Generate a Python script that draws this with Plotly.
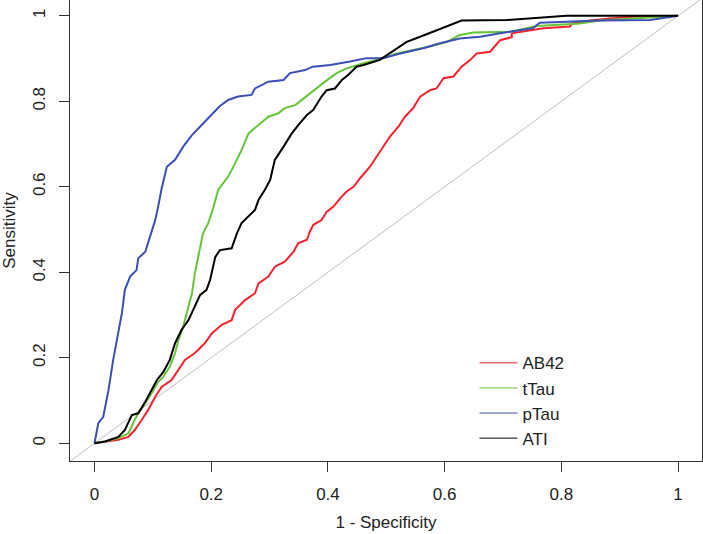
import plotly.graph_objects as go

# ROC curves (1 - specificity, sensitivity)
ab42_fpr = [0, 0.018, 0.041, 0.058, 0.069, 0.081, 0.092, 0.104, 0.115, 0.132, 0.144, 0.155, 0.172, 0.189, 0.201, 0.218, 0.235, 0.241, 0.258, 0.275, 0.281, 0.298, 0.309, 0.326, 0.341, 0.349, 0.364, 0.369, 0.375, 0.389, 0.398, 0.409, 0.421, 0.432, 0.444, 0.455, 0.472, 0.489, 0.506, 0.521, 0.532, 0.546, 0.558, 0.575, 0.586, 0.598, 0.615, 0.629, 0.644, 0.655, 0.678, 0.695, 0.715, 0.715, 0.734, 0.769, 0.815, 0.818, 0.849, 0.883, 0.923, 1]
ab42_tpr = [0, 0.004, 0.008, 0.015, 0.031, 0.055, 0.078, 0.109, 0.132, 0.148, 0.171, 0.195, 0.211, 0.234, 0.257, 0.277, 0.288, 0.312, 0.335, 0.351, 0.374, 0.390, 0.413, 0.425, 0.448, 0.468, 0.476, 0.495, 0.511, 0.522, 0.542, 0.553, 0.573, 0.589, 0.600, 0.620, 0.647, 0.682, 0.717, 0.741, 0.764, 0.784, 0.811, 0.826, 0.830, 0.854, 0.858, 0.881, 0.897, 0.912, 0.916, 0.943, 0.950, 0.959, 0.963, 0.971, 0.975, 0.982, 0.989, 0.994, 0.998, 1]

ttau_fpr = [0, 0.018, 0.041, 0.058, 0.069, 0.075, 0.087, 0.098, 0.107, 0.118, 0.129, 0.138, 0.144, 0.152, 0.158, 0.167, 0.172, 0.181, 0.186, 0.195, 0.204, 0.212, 0.229, 0.235, 0.252, 0.264, 0.281, 0.298, 0.315, 0.326, 0.344, 0.361, 0.375, 0.395, 0.415, 0.432, 0.461, 0.495, 0.518, 0.546, 0.575, 0.604, 0.626, 0.649, 0.712, 0.758, 0.832, 0.866, 0.923, 0.981, 1]
ttau_tpr = [0, 0.004, 0.012, 0.023, 0.055, 0.070, 0.094, 0.117, 0.140, 0.156, 0.179, 0.211, 0.242, 0.273, 0.304, 0.351, 0.398, 0.460, 0.491, 0.515, 0.553, 0.593, 0.624, 0.639, 0.686, 0.725, 0.745, 0.764, 0.772, 0.784, 0.791, 0.809, 0.826, 0.846, 0.866, 0.877, 0.889, 0.901, 0.912, 0.920, 0.928, 0.939, 0.955, 0.961, 0.963, 0.976, 0.982, 0.989, 0.994, 0.999, 1]

ptau_fpr = [0, 0.0065, 0.015, 0.024, 0.032, 0.041, 0.047, 0.052, 0.061, 0.072, 0.075, 0.087, 0.095, 0.104, 0.109, 0.115, 0.124, 0.138, 0.152, 0.167, 0.184, 0.201, 0.215, 0.229, 0.246, 0.269, 0.275, 0.298, 0.324, 0.335, 0.361, 0.374, 0.404, 0.438, 0.466, 0.494, 0.524, 0.563, 0.592, 0.626, 0.661, 0.695, 0.715, 0.751, 0.763, 0.809, 0.866, 0.952, 0.995, 1]
ptau_tpr = [0, 0.047, 0.062, 0.125, 0.195, 0.258, 0.305, 0.359, 0.390, 0.405, 0.433, 0.448, 0.483, 0.522, 0.553, 0.596, 0.647, 0.663, 0.694, 0.721, 0.745, 0.768, 0.789, 0.803, 0.811, 0.815, 0.830, 0.846, 0.850, 0.866, 0.873, 0.881, 0.885, 0.893, 0.901, 0.901, 0.912, 0.924, 0.936, 0.947, 0.951, 0.959, 0.963, 0.971, 0.984, 0.986, 0.989, 0.990, 0.998, 1]

ati_fpr = [0, 0.018, 0.041, 0.052, 0.064, 0.075, 0.087, 0.098, 0.107, 0.118, 0.129, 0.138, 0.149, 0.161, 0.172, 0.181, 0.192, 0.198, 0.207, 0.215, 0.235, 0.244, 0.252, 0.264, 0.275, 0.281, 0.292, 0.301, 0.309, 0.324, 0.338, 0.352, 0.364, 0.375, 0.389, 0.398, 0.412, 0.424, 0.435, 0.449, 0.461, 0.489, 0.501, 0.518, 0.535, 0.558, 0.581, 0.604, 0.618, 0.629, 0.706, 0.752, 0.809, 1]
ati_tpr = [0, 0.004, 0.015, 0.031, 0.066, 0.070, 0.097, 0.125, 0.148, 0.167, 0.195, 0.234, 0.265, 0.288, 0.320, 0.347, 0.359, 0.382, 0.436, 0.452, 0.456, 0.491, 0.515, 0.530, 0.546, 0.569, 0.593, 0.616, 0.663, 0.694, 0.725, 0.749, 0.768, 0.780, 0.811, 0.826, 0.830, 0.850, 0.862, 0.881, 0.885, 0.897, 0.908, 0.924, 0.939, 0.951, 0.963, 0.975, 0.982, 0.989, 0.990, 0.994, 1.0, 1]

names = ["AB42", "tTau", "pTau", "ATI"]
colors = ["#F5222D", "#66C43A", "#3B4FB5", "#000000"]
tick_vals = [0, 0.2, 0.4, 0.6, 0.8, 1]
tick_text = ["0", "0.2", "0.4", "0.6", "0.8", "1"]
diag = [-0.1, 1.1]

FONT = "Liberation Sans, Arial, sans-serif"
fig = go.Figure()

fig.add_trace(go.Scatter(x=diag, y=diag, mode="lines",
                         line=dict(color="#BEBEBE", width=1),
                         showlegend=False, hoverinfo="skip"))

series = [(ab42_fpr, ab42_tpr), (ttau_fpr, ttau_tpr), (ptau_fpr, ptau_tpr), (ati_fpr, ati_tpr)]
for (xs, ys), nm, col in zip(series, names, colors):
    fig.add_trace(go.Scatter(x=xs, y=ys, mode="lines", name=nm,
                             line=dict(color=col, width=2),
                             showlegend=False))

# legend entries with thin lines
for i, (nm, col) in enumerate(zip(names, colors)):
    fig.add_trace(go.Scatter(x=[None], y=[None], mode="lines", name=nm,
                             line=dict(color=col, width=1),
                             legendgroup=f"g{i}", showlegend=True))

axis_common = dict(
    showgrid=False, zeroline=False, automargin=False,
    showline=True, linecolor="#333333", linewidth=1, mirror=True,
    ticks="outside", ticklen=10, tickcolor="#333333", tickwidth=1,
    tickvals=tick_vals, ticktext=tick_text,
    tickfont=dict(family=FONT, size=17, color="#222222"),
)

fig.update_layout(
    width=703, height=534,
    margin=dict(l=70, r=1, t=0, b=73),
    plot_bgcolor="white", paper_bgcolor="white",
    xaxis=dict(range=[-0.042, 1.041], ticklabelstandoff=8,
               title=dict(text="1 - Specificity", font=dict(family=FONT, size=17, color="#222222"), standoff=12),
               **axis_common),
    yaxis=dict(range=[-0.0415, 1.037], tickangle=-90, ticklabelstandoff=7,
               title=dict(text="Sensitivity", font=dict(family=FONT, size=17, color="#222222"), standoff=10),
               **axis_common),
    legend=dict(x=0.64, y=0.251, xanchor="left", yanchor="top",
                bgcolor="rgba(0,0,0,0)", borderwidth=0,
                font=dict(family=FONT, size=17, color="#222222"),
                tracegroupgap=0, itemwidth=38),
    showlegend=True,
)

fig.write_html("out.html", config={"displayModeBar": False},
               post_script="document.body.style.margin='0px';")
